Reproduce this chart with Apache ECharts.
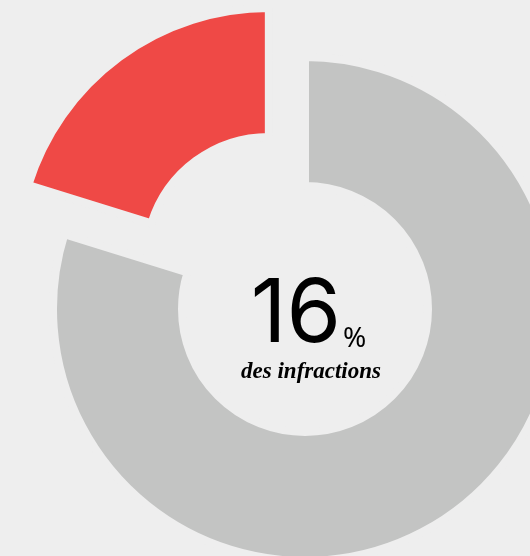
<!DOCTYPE html>
<html><head><meta charset="utf-8">
<script src="https://cdn.jsdelivr.net/npm/echarts@6/dist/echarts.min.js"></script>
<style>html,body{margin:0;padding:0;background:#eeeeee}#c{width:530px;height:556px}</style>
</head><body><div id="c"></div>
<script>
const categories = ['Infractions concernées', 'Autres infractions'];
const values = [20.2, 79.8];
const colors = ['#ef4946', '#c3c4c3'];
const centerValue = '16';
const centerUnit = '%';
const centerCaption = 'des infractions';

const chart = echarts.init(document.getElementById('c'), null, {renderer: 'canvas'});
chart.setOption({
  backgroundColor: '#eeeeee',
  animation: false,
  series: [{
    type: 'pie',
    center: [305, 309],
    radius: [123, 252],
    startAngle: 90,
    clockwise: false,
    silent: true,
    selectedMode: 'single',
    selectedOffset: 61,
    label: {show: false},
    labelLine: {show: false},
    emphasis: {disabled: true},
    itemStyle: {borderColor: '#eeeeee', borderWidth: 8},
    data: categories.map((name, i) => ({
      name, value: values[i], selected: i === 0,
      itemStyle: {color: colors[i]}
    }))
  }],
  graphic: [
    {type: 'text', x: 341, y: 316, style: {text: centerValue, font: '400 88px Inter', fill: '#000', align: 'right', textAlign: 'right', verticalAlign: 'middle', textVerticalAlign: 'middle'}},
    {type: 'text', x: 343, y: 339, style: {text: centerUnit, font: '400 28px "Noto Sans"', fill: '#000', align: 'left', textAlign: 'left', verticalAlign: 'middle', textVerticalAlign: 'middle'}},
    {type: 'text', x: 311, y: 372, style: {text: centerCaption, font: 'italic bold 23px "Liberation Serif"', fill: '#000', align: 'center', textAlign: 'center', verticalAlign: 'middle', textVerticalAlign: 'middle'}}
  ]
});
</script></body></html>
